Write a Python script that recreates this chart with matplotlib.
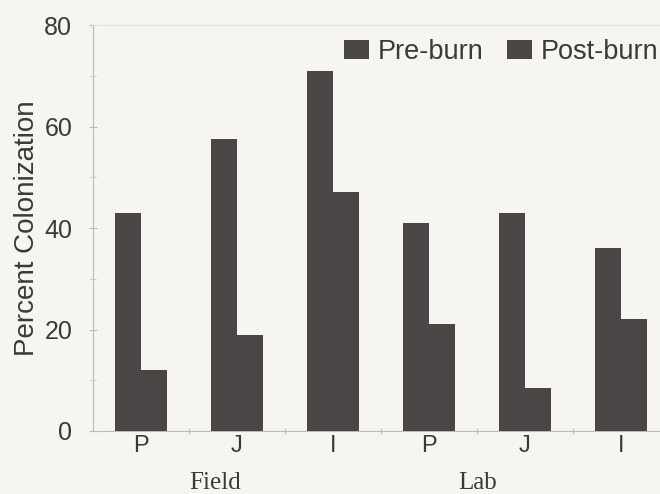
import matplotlib
matplotlib.use("Agg")
import matplotlib.pyplot as plt
import numpy as np
from matplotlib.ticker import MultipleLocator, FixedLocator

categories = ["P", "J", "I", "P", "J", "I"]
groups = ["Field", "Lab"]
pre_burn = [43, 57.5, 71, 41, 43, 36]
post_burn = [12, 19, 47, 21, 8.5, 22]
y_ticks = [0, 20, 40, 60, 80]

plt.rcParams["font.family"] = ["Liberation Sans", "DejaVu Sans"]

bg = "#f6f5f0"
bar_color = "#4a4646"
text_color = "#3a3a3a"

fig = plt.figure(figsize=(6.6, 4.94), dpi=100, facecolor=bg)
ax = fig.add_axes([93/660, 1 - 431/494, 1 - 93/660, (431 - 25)/494])
ax.set_facecolor(bg)

x = np.arange(len(categories))
w = 0.27
ax.bar(x - w/2, pre_burn, width=w, color=bar_color, label="Pre-burn", zorder=3)
ax.bar(x + w/2, post_burn, width=w, color=bar_color, label="Post-burn", zorder=3)

ax.set_xlim(-0.5, 5.41)
ax.set_ylim(0, 80)
ax.set_yticks(y_ticks)
ax.yaxis.set_minor_locator(MultipleLocator(10))
ax.set_xticks(x)
ax.set_xticklabels(categories)
ax.xaxis.set_minor_locator(FixedLocator([0.5, 1.5, 2.5, 3.5, 4.5]))

ax.tick_params(axis="x", which="major", length=0, pad=3, labelsize=17, labelcolor=text_color)
ax.tick_params(axis="x", which="minor", length=4, direction="inout", color="#bbbbbb", width=0.8)
ax.tick_params(axis="y", which="major", length=6, direction="inout", color="#bbbbbb", width=0.8,
               labelsize=18, labelcolor=text_color, pad=12)
ax.tick_params(axis="y", which="minor", length=4, direction="inout", color="#cccccc", width=0.8)

for s in ["left", "bottom"]:
    ax.spines[s].set_color("#bbbbbb")
    ax.spines[s].set_linewidth(0.8)
ax.spines["right"].set_visible(False)
ax.spines["top"].set_color("#e2e1dc")
ax.spines["top"].set_linewidth(0.8)

ax.set_ylabel("Percent Colonization", fontsize=20, color=text_color, labelpad=3)

group_x = [0.77, 3.51]
for gx, g in zip(group_x, groups):
    ax.text(gx, -0.127, g, transform=ax.get_xaxis_transform(), ha="center", va="center",
            fontsize=18, family="Liberation Serif", color=text_color)

leg = ax.legend(loc="center right", bbox_to_anchor=(0.997, 0.933), ncol=2, frameon=False,
                fontsize=19.5, handlelength=0.92, handleheight=0.72, handletextpad=0.33,
                columnspacing=0.85, borderaxespad=0, borderpad=0)
for t in leg.get_texts():
    t.set_color(text_color)

fig.savefig("out.png", dpi=100, facecolor=bg)
